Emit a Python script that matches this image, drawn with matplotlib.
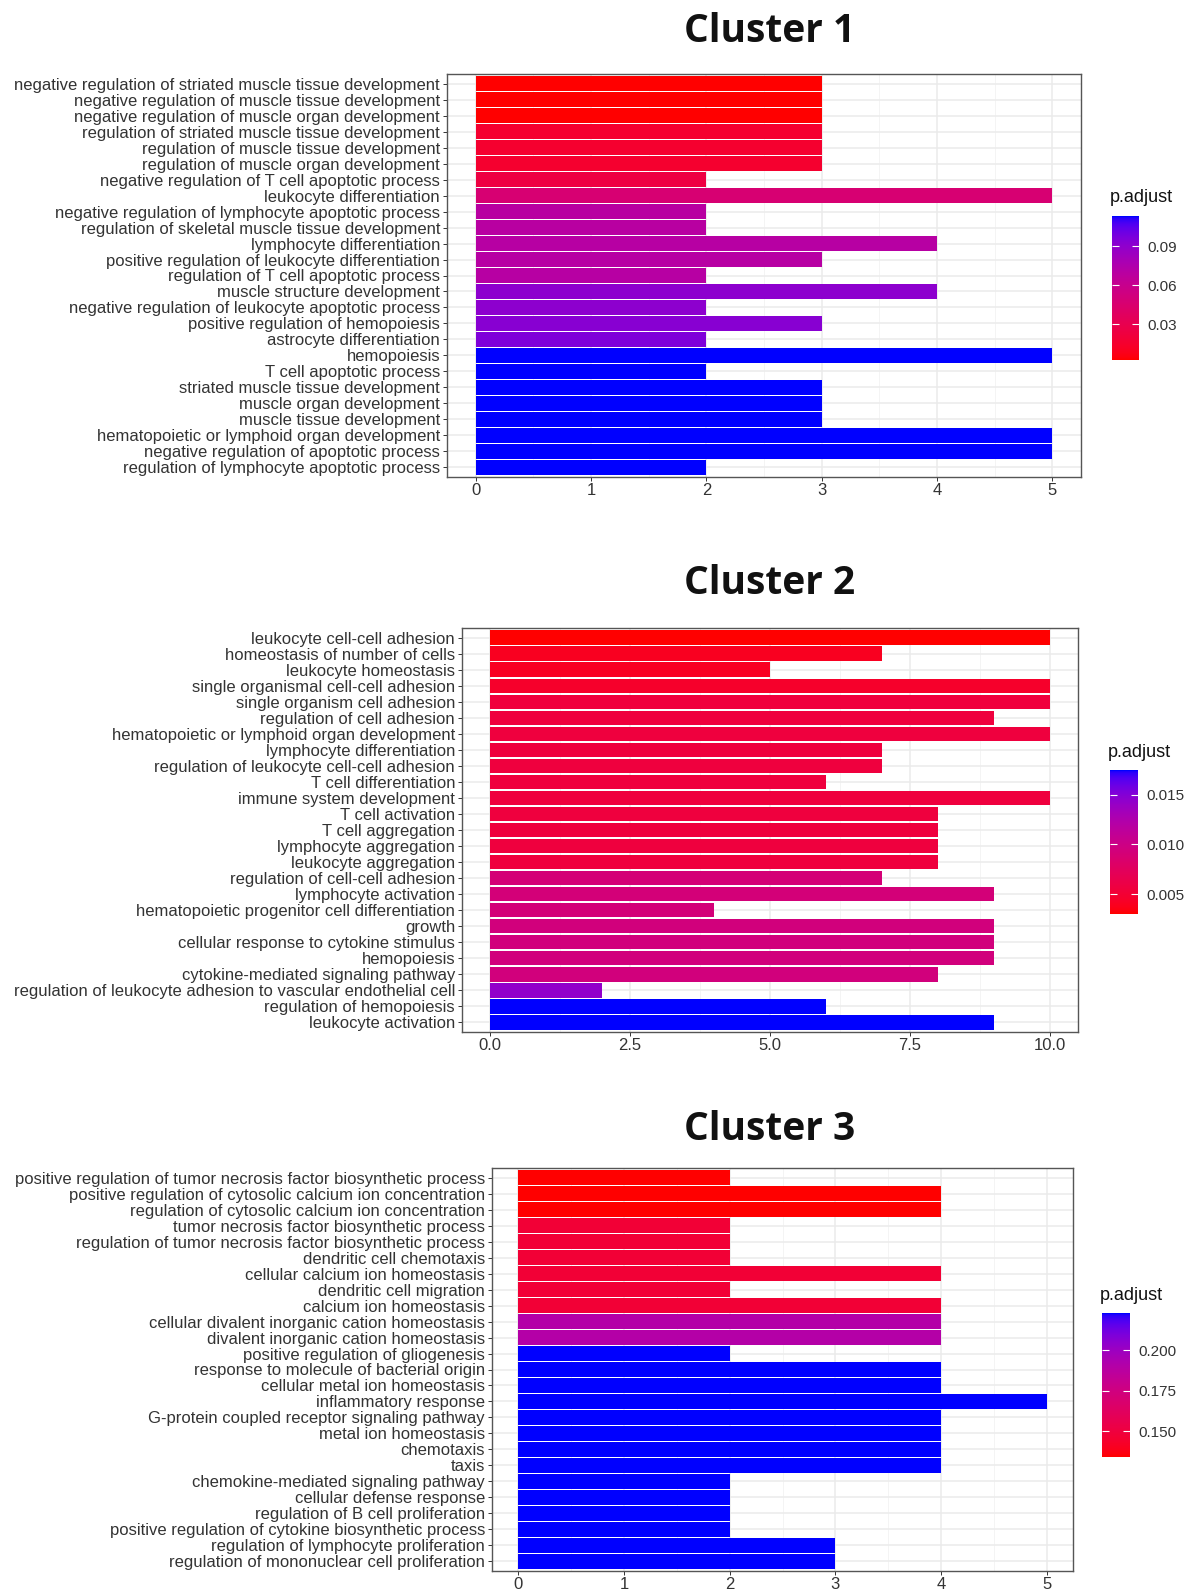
import numpy as np
import matplotlib
matplotlib.use("Agg")
import matplotlib.pyplot as plt
from matplotlib.colors import ListedColormap, Normalize
from matplotlib.ticker import MultipleLocator
import matplotlib as mpl

plt.rcParams['font.family'] = ['Liberation Sans', 'DejaVu Sans']

# ---------------- data ----------------
c1_terms = [
    "negative regulation of striated muscle tissue development",
    "negative regulation of muscle tissue development",
    "negative regulation of muscle organ development",
    "regulation of striated muscle tissue development",
    "regulation of muscle tissue development",
    "regulation of muscle organ development",
    "negative regulation of T cell apoptotic process",
    "leukocyte differentiation",
    "negative regulation of lymphocyte apoptotic process",
    "regulation of skeletal muscle tissue development",
    "lymphocyte differentiation",
    "positive regulation of leukocyte differentiation",
    "regulation of T cell apoptotic process",
    "muscle structure development",
    "negative regulation of leukocyte apoptotic process",
    "positive regulation of hemopoiesis",
    "astrocyte differentiation",
    "hemopoiesis",
    "T cell apoptotic process",
    "striated muscle tissue development",
    "muscle organ development",
    "muscle tissue development",
    "hematopoietic or lymphoid organ development",
    "negative regulation of apoptotic process",
    "regulation of lymphocyte apoptotic process",
]
c1_counts = [3, 3, 3, 3, 3, 3, 2, 5, 2, 2, 4, 3, 2, 4, 2, 3, 2, 5, 2, 3, 3, 3, 5, 5, 2]
c1_padj = [0.0027, 0.0027, 0.0027, 0.016, 0.016, 0.016, 0.024, 0.047, 0.070, 0.070,
           0.071, 0.071, 0.071, 0.091, 0.091, 0.093, 0.096, 0.1134, 0.1134, 0.1134,
           0.1134, 0.1134, 0.1134, 0.1134, 0.1134]
c1_range = (0.0027, 0.1134)
c1_ticks = [0.03, 0.06, 0.09]
c1_ticklabels = ["0.03", "0.06", "0.09"]

c2_terms = [
    "leukocyte cell-cell adhesion",
    "homeostasis of number of cells",
    "leukocyte homeostasis",
    "single organismal cell-cell adhesion",
    "single organism cell adhesion",
    "regulation of cell adhesion",
    "hematopoietic or lymphoid organ development",
    "lymphocyte differentiation",
    "regulation of leukocyte cell-cell adhesion",
    "T cell differentiation",
    "immune system development",
    "T cell activation",
    "T cell aggregation",
    "lymphocyte aggregation",
    "leukocyte aggregation",
    "regulation of cell-cell adhesion",
    "lymphocyte activation",
    "hematopoietic progenitor cell differentiation",
    "growth",
    "cellular response to cytokine stimulus",
    "hemopoiesis",
    "cytokine-mediated signaling pathway",
    "regulation of leukocyte adhesion to vascular endothelial cell",
    "regulation of hemopoiesis",
    "leukocyte activation",
]
c2_counts = [10, 7, 5, 10, 10, 9, 10, 7, 7, 6, 10, 8, 8, 8, 8, 7, 9, 4, 9, 9, 9, 8, 2, 6, 9]
c2_padj = [0.0030, 0.0040, 0.0041, 0.0045, 0.0055, 0.0056, 0.0056, 0.0056, 0.0056, 0.0056,
           0.0056, 0.0056, 0.0056, 0.0056, 0.0056, 0.0091, 0.0092, 0.0092, 0.0095, 0.0095,
           0.0095, 0.0095, 0.0143, 0.0175, 0.0175]
c2_range = (0.0030, 0.0175)
c2_ticks = [0.005, 0.010, 0.015]
c2_ticklabels = ["0.005", "0.010", "0.015"]

c3_terms = [
    "positive regulation of tumor necrosis factor biosynthetic process",
    "positive regulation of cytosolic calcium ion concentration",
    "regulation of cytosolic calcium ion concentration",
    "tumor necrosis factor biosynthetic process",
    "regulation of tumor necrosis factor biosynthetic process",
    "dendritic cell chemotaxis",
    "cellular calcium ion homeostasis",
    "dendritic cell migration",
    "calcium ion homeostasis",
    "cellular divalent inorganic cation homeostasis",
    "divalent inorganic cation homeostasis",
    "positive regulation of gliogenesis",
    "response to molecule of bacterial origin",
    "cellular metal ion homeostasis",
    "inflammatory response",
    "G-protein coupled receptor signaling pathway",
    "metal ion homeostasis",
    "chemotaxis",
    "taxis",
    "chemokine-mediated signaling pathway",
    "cellular defense response",
    "regulation of B cell proliferation",
    "positive regulation of cytokine biosynthetic process",
    "regulation of lymphocyte proliferation",
    "regulation of mononuclear cell proliferation",
]
c3_counts = [2, 4, 4, 2, 2, 2, 4, 2, 4, 4, 4, 2, 4, 4, 5, 4, 4, 4, 4, 2, 2, 2, 2, 3, 3]
c3_padj = [0.134, 0.134, 0.134, 0.147, 0.147, 0.147, 0.147, 0.147, 0.147, 0.190,
           0.190, 0.223, 0.223, 0.223, 0.223, 0.223, 0.223, 0.223, 0.223, 0.223,
           0.223, 0.223, 0.223, 0.223, 0.223]
c3_range = (0.134, 0.223)
c3_ticks = [0.150, 0.175, 0.200]
c3_ticklabels = ["0.150", "0.175", "0.200"]

titles = ["Cluster 1", "Cluster 2", "Cluster 3"]

# ------------- Lab gradient red -> blue (ggplot style) -------------
_M = np.array([[0.4124564, 0.3575761, 0.1804375],
               [0.2126729, 0.7151522, 0.0721750],
               [0.0193339, 0.1191920, 0.9503041]])
_Minv = np.linalg.inv(_M)
_white = np.array([0.95047, 1.0, 1.08883])


def srgb_to_lab(rgb):
    rgb = np.asarray(rgb, float)
    lin = np.where(rgb <= 0.04045, rgb / 12.92, ((rgb + 0.055) / 1.055) ** 2.4)
    xyz = _M @ lin / _white
    d = 6 / 29
    f = np.where(xyz > d ** 3, np.cbrt(xyz), xyz / (3 * d * d) + 4 / 29)
    return np.array([116 * f[1] - 16, 500 * (f[0] - f[1]), 200 * (f[1] - f[2])])


def lab_to_srgb(lab):
    L, a, b = lab
    fy_ = (L + 16) / 116
    fx_ = fy_ + a / 500
    fz_ = fy_ - b / 200
    d = 6 / 29
    f = np.array([fx_, fy_, fz_])
    xyz = np.where(f > d, f ** 3, 3 * d * d * (f - 4 / 29)) * _white
    lin = np.clip(_Minv @ xyz, 0, 1)
    rgb = np.where(lin <= 0.0031308, 12.92 * lin, 1.055 * lin ** (1 / 2.4) - 0.055)
    return np.clip(rgb, 0, 1)


lab_lo = srgb_to_lab([1, 0, 0])
lab_hi = srgb_to_lab([0, 0, 1])
cmap = ListedColormap([lab_to_srgb(lab_lo + (lab_hi - lab_lo) * t)
                       for t in np.linspace(0, 1, 256)])

# ---------------- figure ----------------
W, H = 1190, 1592
fig = plt.figure(figsize=(W / 100, H / 100), dpi=100)


def fx(px):
    return px / W


def fy(py):
    return 1 - py / H


panels = [
    dict(terms=c1_terms, counts=c1_counts, padj=c1_padj, rng=c1_range, ticks=c1_ticks,
         tl=c1_ticklabels, ax=(447, 74, 1081, 477), xmax=5, xmajor=1, xminor=0.5,
         xfmt="{:.0f}", cb=(1112, 216, 1139, 360), title_y=31),
    dict(terms=c2_terms, counts=c2_counts, padj=c2_padj, rng=c2_range, ticks=c2_ticks,
         tl=c2_ticklabels, ax=(462, 628, 1078, 1032), xmax=10, xmajor=2.5, xminor=1.25,
         xfmt="{:.1f}", cb=(1110, 770, 1138, 914), title_y=584),
    dict(terms=c3_terms, counts=c3_counts, padj=c3_padj, rng=c3_range, ticks=c3_ticks,
         tl=c3_ticklabels, ax=(492, 1168, 1073, 1571), xmax=5, xmajor=1, xminor=0.5,
         xfmt="{:.0f}", cb=(1102, 1313, 1130, 1457), title_y=1129),
]

txt_col = "#333333"
grid_col = "#ebebeb"
lab_size = 12.0

for i, p in enumerate(panels):
    x0, y0, x1, y1 = p["ax"]
    ax = fig.add_axes([fx(x0), fy(y1), fx(x1) - fx(x0), fy(y0) - fy(y1)])
    n = len(p["terms"])
    ypos = np.arange(n)[::-1]
    norm = Normalize(*p["rng"])
    cols = cmap(norm(np.array(p["padj"])))
    ax.barh(ypos, p["counts"], height=0.9, color=cols, edgecolor="none", zorder=3)
    xr = p["xmax"]
    ax.set_xlim(-0.05 * xr, xr * 1.05)
    ax.set_ylim(-0.6, n - 0.4)
    ax.set_yticks(ypos)
    ax.set_yticklabels(p["terms"], fontsize=lab_size, color=txt_col)
    xt = np.arange(0, xr + 1e-9, p["xmajor"])
    ax.xaxis.set_minor_locator(MultipleLocator(p["xminor"]))
    ax.set_xticks(xt)
    ax.set_xticklabels([p["xfmt"].format(v) for v in xt], fontsize=lab_size, color=txt_col)
    ax.grid(True, which="major", color=grid_col, linewidth=1.1, zorder=0)
    ax.grid(True, which="minor", axis="x", color="#f2f2f2", linewidth=0.6, zorder=0)
    ax.set_axisbelow(True)
    ax.tick_params(axis="both", which="major", length=3, width=0.7, color="#333333", pad=2)
    ax.tick_params(axis="x", which="major", pad=1)
    ax.tick_params(axis="x", which="minor", length=0)
    for s in ax.spines.values():
        s.set_color("#555555")
        s.set_linewidth(1.0)
    fig.text(fx(770), fy(p["title_y"]), titles[i], ha="center", va="center",
             fontsize=28, fontweight="bold", family="Open Sans", color="#111111")
    cx0, cy0, cx1, cy1 = p["cb"]
    cax = fig.add_axes([fx(cx0), fy(cy1), fx(cx1) - fx(cx0), fy(cy0) - fy(cy1)])
    cb = mpl.colorbar.ColorbarBase(cax, cmap=cmap, norm=norm, orientation="vertical")
    cb.outline.set_visible(False)
    cb.set_ticks(p["ticks"])
    cb.set_ticklabels(p["tl"])
    cax.tick_params(direction="in", length=5, width=0.8, color="white", left=True, right=True,
                    labelleft=False, labelright=True, labelsize=11, labelcolor=txt_col, pad=6)
    fig.text(fx(cx0 - 2), fy(cy0 - 18), "p.adjust", ha="left", va="center",
             fontsize=13, color="#111111")

fig.savefig("out.png", dpi=100)
